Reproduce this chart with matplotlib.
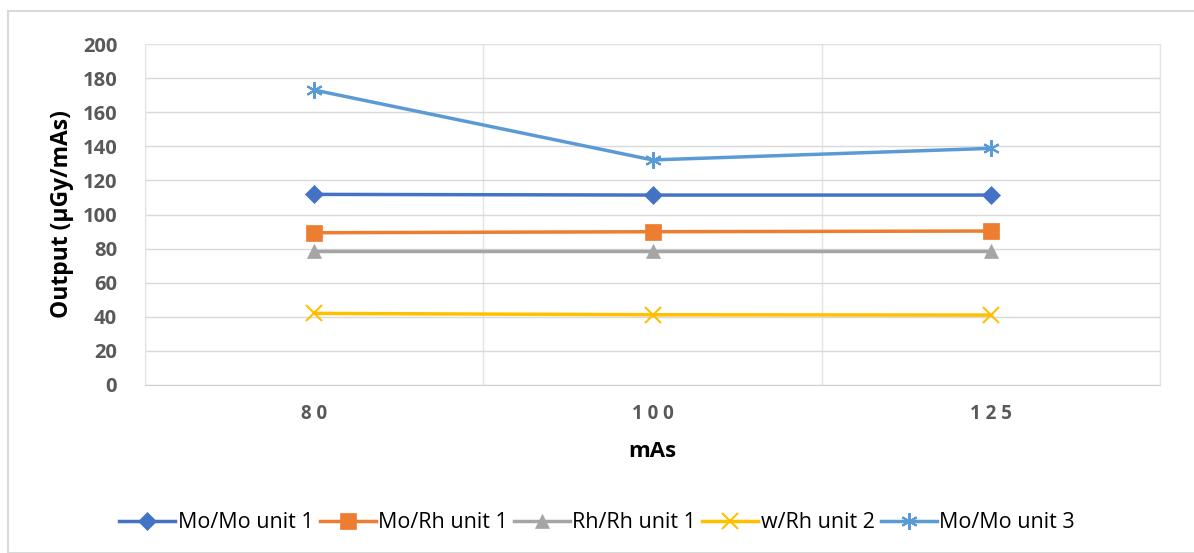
import numpy as np
import matplotlib
matplotlib.use('Agg')
import matplotlib.pyplot as plt
from matplotlib.patches import Rectangle

# data
categories = ['8 0', '1 0 0', '1 2 5']
mo_mo_unit1 = [111.8, 111.4, 111.4]
mo_rh_unit1 = [89.3, 89.9, 90.3]
rh_rh_unit1 = [78.8, 78.8, 78.8]
w_rh_unit2 = [42.0, 41.2, 41.0]
mo_mo_unit3 = [173.0, 132.0, 138.8]

series_names = ['Mo/Mo unit 1', 'Mo/Rh unit 1', 'Rh/Rh unit 1', 'w/Rh unit 2', 'Mo/Mo unit 3']
series_values = [mo_mo_unit1, mo_rh_unit1, rh_rh_unit1, w_rh_unit2, mo_mo_unit3]
colors = ['#4472C4', '#ED7D31', '#A5A5A5', '#FFC000', '#5B9BD5']
markers = ['D', 's', '^', 'x', (6, 2, 0)]
msizes = [9, 12, 10, 11, 12]

plt.rcParams['font.family'] = ['Open Sans', 'DejaVu Sans']

W, H = 1194, 553
fig = plt.figure(figsize=(W / 100, H / 100), dpi=100)
fig.patches.append(Rectangle((8 / W, 0), 1.2, 1 - 11 / H, transform=fig.transFigure,
                             fill=False, edgecolor='#D9D9D9', lw=1.5, zorder=0))

ax = fig.add_axes([145 / W, 1 - 385 / H, (1160 - 145) / W, (385 - 44) / H])
x = np.arange(len(categories))

for name, vals, c, m, ms in zip(series_names, series_values, colors, markers, msizes):
    ax.plot(x, vals, color=c, lw=2.5, marker=m, markersize=ms, label=name,
            markeredgecolor=c, markeredgewidth=1.5 if m in ('x', (6, 2, 0)) else 0.5,
            zorder=3)

ax.set_xlim(-0.5, len(categories) - 0.5)
ax.set_ylim(0, 200)
ax.set_yticks(np.arange(0, 201, 20))
ax.set_xticks(x)
ax.set_xticklabels(categories)
ax.set_xticks(np.arange(-0.5, len(categories), 1), minor=True)
ax.grid(axis='y', color='#D9D9D9', lw=1)
ax.grid(axis='x', which='minor', color='#E3E3E3', lw=1)
ax.set_axisbelow(True)
ax.tick_params(axis='both', which='both', length=0)
ax.tick_params(axis='y', pad=20, labelsize=14.5, labelcolor='#595959')
ax.tick_params(axis='x', pad=14, labelsize=13.5, labelcolor='#595959')
for lab in ax.get_xticklabels() + ax.get_yticklabels():
    lab.set_fontweight('bold')

for side in ['top', 'right', 'left']:
    ax.spines[side].set_color('#E3E3E3')
ax.spines['bottom'].set_color('#D0D0D0')

ax.set_xlabel('mAs', fontsize=16, fontweight='bold', labelpad=12)
ax.set_ylabel('Output (µGy/mAs)', fontsize=16.5, fontweight='bold', labelpad=6)

fig.legend(loc='center', bbox_to_anchor=(0.5, 1 - 523 / H), ncol=5, frameon=False,
           fontsize=15.5, handlelength=2.6, handletextpad=0.1, columnspacing=0.3)

fig.savefig('out.png', dpi=100)
